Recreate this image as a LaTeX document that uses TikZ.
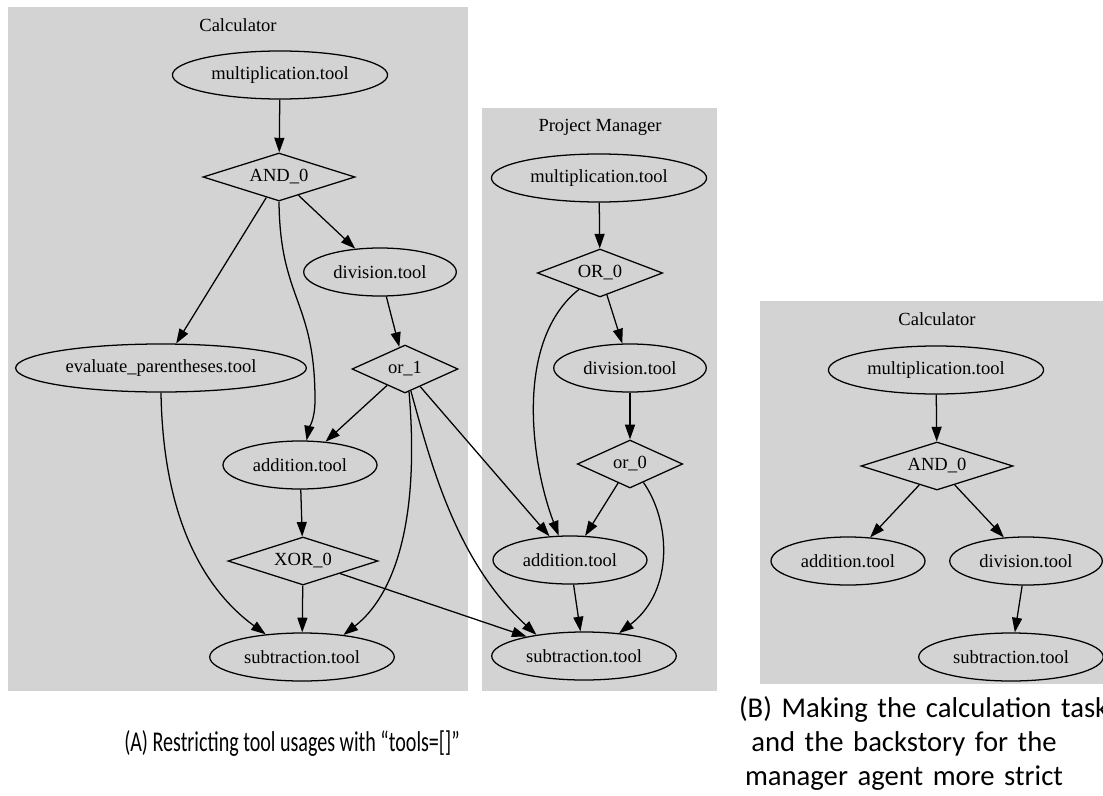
\documentclass[tikz,border=0pt]{standalone}
\usepackage{fontspec}
\setmainfont{Liberation Serif}
\newfontfamily\capfont{Carlito}
\usepackage{graphicx}
\usepackage{tikz}
\usetikzlibrary{arrows.meta,positioning,shapes.geometric}
\definecolor{ClusterBG}{HTML}{D3D3D3}
\definecolor{EdgeInk}{HTML}{000000}

\begin{document}
\begin{tikzpicture}[x=0.75pt,y=-0.75pt,
  tool/.style={ellipse,draw=EdgeInk,line width=0.95pt,inner xsep=5.5pt,
               minimum height=36pt,font=\fontsize{13.9}{16}\selectfont},
  gate/.style={diamond,draw=EdgeInk,line width=0.95pt,aspect=3,inner sep=0pt,
               minimum height=36pt,font=\fontsize{13.9}{16}\selectfont},
  title/.style={font=\fontsize{13.9}{16}\selectfont},
  flow/.style={draw=EdgeInk,line width=0.95pt,-{Triangle[length=11pt,width=7.5pt]}},
  cluster/.style={fill=ClusterBG,draw=none},
  caption/.style={font=\capfont\fontsize{21.5}{25.5}\selectfont,align=center}]
  \useasboundingbox (0,0) rectangle (1103,796);

  \fill[cluster] (8,7) rectangle (468,691);
  \fill[cluster] (482,108) rectangle (717,691);
  \fill[cluster] (760,301) rectangle (1110,684);

  % (A) calculator
  \node[title] (atitle) at (238,25) {Calculator};
  \node[tool] (amul) at (280,75) {multiplication.tool};
  \node[gate,minimum width=114pt] (aand) at (279,177) {AND\_0};
  \node[tool] (adiv) at (380,272) {division.tool};
  \node[gate,minimum width=79.5pt] (aor1) at (405,369) {or\_1};
  \node[tool] (aeval) at (161,368) {evaluate\_parentheses.tool};
  \node[tool] (aadd) at (300,465) {addition.tool};
  \node[gate,minimum width=112.5pt] (axor) at (303,561) {XOR\_0};
  \node[tool] (asub) at (302,657) {subtraction.tool};

  % (A) project manager
  \node[title] (ptitle) at (600,127) {Project Manager};
  \node[tool] (pmul) at (599,178) {multiplication.tool};
  \node[gate,minimum width=94pt] (pOR0) at (600,273) {OR\_0};
  \node[tool] (pdiv) at (630,368) {division.tool};
  \node[gate,minimum width=79pt] (por0) at (630,464) {or\_0};
  \node[tool] (padd) at (570,560) {addition.tool};
  \node[tool] (psub) at (584,656) {subtraction.tool};

  % (B) calculator
  \node[title] (btitle) at (937,319) {Calculator};
  \node[tool] (bmul) at (936,370) {multiplication.tool};
  \node[gate,minimum width=114pt] (band) at (937,466) {AND\_0};
  \node[tool] (badd) at (848,561) {addition.tool};
  \node[tool] (bdiv) at (1026,561) {division.tool};
  \node[tool] (bsub) at (1011,657) {subtraction.tool};

  \draw[flow] (amul) -- (aand);
  \draw[flow] (aand) -- (adiv);
  \draw[flow] (aand) -- (aeval);
  \draw[flow] (aand.south) .. controls (280,300) and (315,300) .. (315,400)
              .. controls (315,420) and (309,428) .. (aadd.75);
  \draw[flow] (adiv) -- (aor1);
  \draw[flow] (aor1) -- (aadd);
  \draw[flow] (aadd) -- (axor);
  \draw[flow] (axor) -- (asub);
  \draw[flow] (aeval.south) .. controls (163,520) and (205,590) .. (asub.148);
  \draw[flow] (aor1.-80) .. controls (420,520) and (395,595) .. (asub.28);
  \draw[flow] (aor1) -- (padd);
  \draw[flow] (aor1.-75) .. controls (430,460) and (455,560) .. (psub.156);
  \draw[flow] (axor) -- (psub);

  \draw[flow] (pmul) -- (pOR0);
  \draw[flow] (pOR0) -- (pdiv);
  \draw[flow] (pOR0.-142) .. controls (515,340) and (530,460) .. (padd.115);
  \draw[flow] (pdiv) -- (por0);
  \draw[flow] (por0) -- (padd);
  \draw[flow] (por0.-54) .. controls (670,520) and (675,590) .. (psub.33);
  \draw[flow] (padd) -- (psub);

  \draw[flow] (bmul) -- (band);
  \draw[flow] (band) -- (badd);
  \draw[flow] (band) -- (bdiv);
  \draw[flow] (bdiv) -- (bsub);

  \node[caption] (capA) at (292,743)
       {\scalebox{0.7}[1]{(A) Restricting tool usages with “tools=[]”}};
  \node[caption,text width=247.5pt] (capB) at (904,743)
       {\mbox{(B) Making the calculation task}\\ and the backstory for the\\ manager agent more strict};
\end{tikzpicture}
\end{document}
